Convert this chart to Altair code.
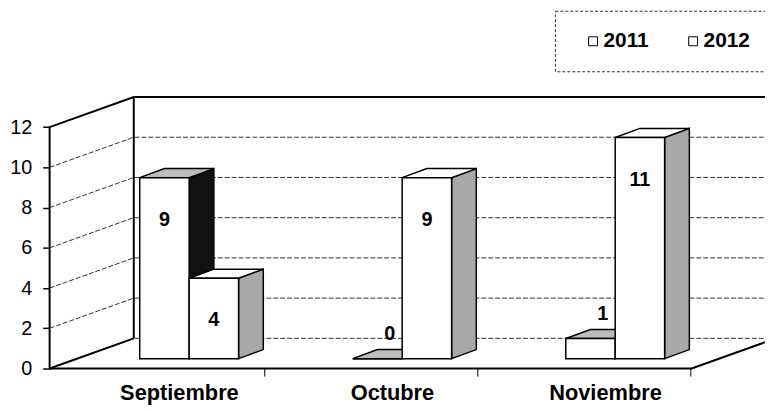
import json
import altair as alt
import pandas as pd

# ---- data ----
months = ["Septiembre", "Octubre", "Noviembre"]
years = ["2011", "2012"]
values_2011 = [9, 0, 1]
values_2012 = [4, 9, 11]
y_ticks = [0, 2, 4, 6, 8, 10, 12]
grid_values = [0, 2, 4, 6, 8, 10]

# ---- layout (pseudo-3D geometry, in scale units) ----
W, H = 722, 274
PX_PER_CAT = 215.0
X_MAX = W / PX_PER_CAT
Y_MAX = 13.5
GROUP_LEFT = 0.423
BAR_W = 0.232
DX, DY = 0.116, 0.45          # bar depth
BASE = 0.49                   # bars stand a bit behind the front edge
WALL_X, WALL_Y = 0.395, 1.5   # wall depth
FLOOR_X = 3.014
LABEL_SHIFT = -0.048

bars = []
for j, (yr, vals) in enumerate(zip(years, [values_2011, values_2012])):
    for i, (m, v) in enumerate(zip(months, vals)):
        xl = i + GROUP_LEFT + j * BAR_W
        bars.append(dict(month=m, year=yr, value=v, xl=xl, xr=xl + BAR_W,
                         bot=BASE, top=BASE + v))

front_df = pd.DataFrame([{"year": b["year"], "x": b["xl"], "x2": b["xr"],
                          "y": b["bot"], "y2": b["top"]} for b in bars])

side_rows, top_rows, label_rows = [], [], []
for k, b in enumerate(bars):
    xl, xr, bot, top = b["xl"], b["xr"], b["bot"], b["top"]
    side_rows += [
        {"poly": k, "year": b["year"], "x": xr, "y": bot, "y2": top},
        {"poly": k, "year": b["year"], "x": xr + DX, "y": bot + DY, "y2": top + DY},
    ]
    top_rows += [
        {"poly": k, "year": b["year"], "x": xl, "y": top, "y2": top},
        {"poly": k, "year": b["year"], "x": xl + DX, "y": top, "y2": top + DY},
        {"poly": k, "year": b["year"], "x": xr, "y": top, "y2": top + DY},
        {"poly": k, "year": b["year"], "x": xr + DX, "y": top + DY, "y2": top + DY},
    ]
    if b["value"] >= 2:
        label_rows.append({"x": (xl + xr) / 2, "y": top - 2.1, "value": b["value"]})
    else:
        label_rows.append({"x": (xl + xr) / 2 + DX / 2, "y": top + 1.2, "value": b["value"]})

side_df = pd.DataFrame(side_rows)
top_df = pd.DataFrame(top_rows)
label_df = pd.DataFrame(label_rows)

# walls / floor outlines
frame_rows = []
def seg(name, pts):
    for k, (x, y) in enumerate(pts):
        frame_rows.append({"seg": name, "k": k, "x": x, "y": y})
seg("wall", [(0, 0), (0, 12), (WALL_X, 12 + WALL_Y), (X_MAX, 12 + WALL_Y)])
seg("corner", [(WALL_X, WALL_Y), (WALL_X, 12 + WALL_Y)])
seg("wallbottom", [(0, 0), (WALL_X, WALL_Y)])
seg("floor", [(0, 0), (FLOOR_X, 0), (FLOOR_X + WALL_X, WALL_Y)])
frame_df = pd.DataFrame(frame_rows)

grid_rows = []
for v in grid_values:
    for k, (x, y) in enumerate([(0, v), (WALL_X, v + WALL_Y), (X_MAX, v + WALL_Y)]):
        grid_rows.append({"seg": v, "k": k, "x": x, "y": y})
grid_df = pd.DataFrame(grid_rows)

tick_df = pd.DataFrame({"x": [i + 0.01 for i in range(1, len(months) + 1)],
                        "y": [0.0] * len(months), "y2": [-0.4] * len(months)})

label_pos = [i + GROUP_LEFT + BAR_W + LABEL_SHIFT for i in range(len(months))]
label_expr = json.dumps(months).replace('"', "'") + "[floor(datum.value)]"

xscale = alt.Scale(domain=[0, X_MAX], nice=False, zero=False)
yscale = alt.Scale(domain=[0, Y_MAX], nice=False, zero=False)
xaxis = alt.Axis(values=label_pos, labelExpr=label_expr, ticks=False, domain=False,
                 grid=False, labelFont="Liberation Sans", labelFontWeight="bold",
                 labelFontSize=22, labelColor="black", labelPadding=14,
                 labelFlush=False, labelOverlap=False)
yaxis = alt.Axis(values=y_ticks, domain=False, grid=False, ticks=True, tickColor="black",
                 tickSize=7, tickWidth=1.5, labelPadding=11, labelFont="Liberation Sans",
                 labelFontSize=20, labelColor="black")

X = alt.X("x:Q", scale=xscale, axis=xaxis, title=None)
Y = alt.Y("y:Q", scale=yscale, axis=yaxis, title=None)

color = alt.Color("year:N", scale=alt.Scale(domain=years, range=["white", "white"]),
                  legend=alt.Legend(title=None, orient="none", legendX=510, legendY=-87,
                                    direction="horizontal", symbolType="square",
                                    symbolSize=81, symbolStrokeColor="black",
                                    symbolStrokeWidth=1, labelFont="Liberation Sans",
                                    labelFontWeight="bold", labelFontSize=21,
                                    labelColor="black", strokeColor="#333",
                                    padding=20, columnPadding=26,
                                    labelOffset=0, symbolOffset=8))

grid = alt.Chart(grid_df).mark_line(color="#333", strokeWidth=1, strokeDash=[5, 2]).encode(
    x=X, y=Y, detail="seg:N", order="k:Q")
frame = alt.Chart(frame_df).mark_line(color="black", strokeWidth=2).encode(
    x=X, y=Y, detail="seg:N", order="k:Q")
ticks = alt.Chart(tick_df).mark_rule(color="black", strokeWidth=1).encode(
    x=X, y=Y, y2=alt.Y2("y2"))

layers = [grid, frame, ticks]
for yr in years:
    side_fill = "#111111" if yr == years[0] else "#a9a9a9"
    top_fill = "#bdbdbd" if yr == years[0] else "white"
    layers.append(alt.Chart(side_df).transform_filter(alt.datum.year == yr).mark_area(
        fill=side_fill, stroke="black", strokeWidth=1.5).encode(
        x=X, y=Y, y2=alt.Y2("y2"), detail="poly:N"))
    layers.append(alt.Chart(top_df).transform_filter(alt.datum.year == yr).mark_area(
        fill=top_fill, stroke="black", strokeWidth=1.5).encode(
        x=X, y=Y, y2=alt.Y2("y2"), detail="poly:N"))
    layers.append(alt.Chart(front_df).transform_filter(alt.datum.year == yr).mark_rect(
        stroke="black", strokeWidth=1.5).encode(
        x=X, x2=alt.X2("x2"), y=Y, y2=alt.Y2("y2"), color=color))

labels = alt.Chart(label_df).mark_text(font="Liberation Sans", fontWeight="bold",
                                       fontSize=20, color="black", baseline="middle").encode(
    x=X, y=Y, text="value:Q")
layers.append(labels)

chart = alt.layer(*layers).properties(
    width=W, height=H, autosize=alt.AutoSizeParams(type="none"),
    padding={"left": 42, "top": 88, "right": 0, "bottom": 36},
    background="white",
).configure_view(strokeWidth=0).configure_legend(strokeDash=[3, 2])

chart.save("out.html", embed_options={"renderer": "svg", "actions": False})
